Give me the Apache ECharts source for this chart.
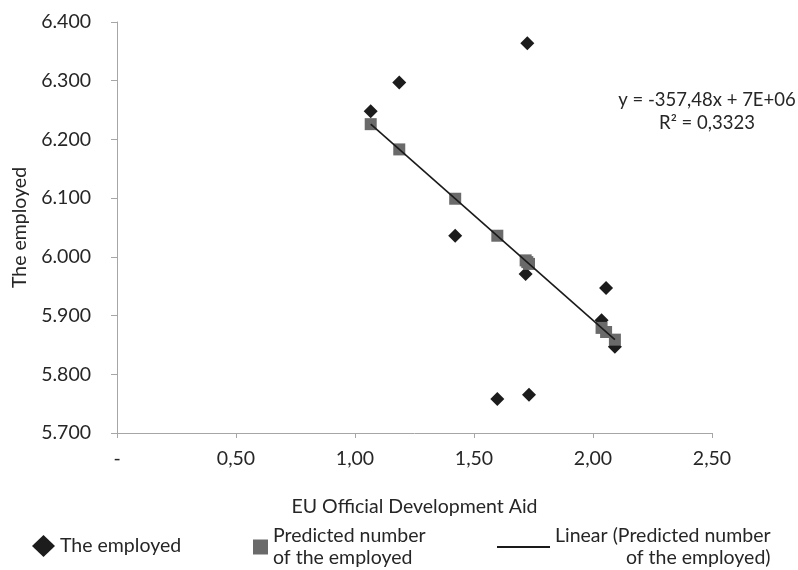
<!DOCTYPE html>
<html>
<head>
<meta charset="utf-8">
<script src="https://cdn.jsdelivr.net/npm/echarts@6/dist/echarts.min.js"></script>
<style>
html,body{margin:0;padding:0;background:#fff;}
#chart{width:798px;height:570px;}
</style>
</head>
<body>
<div id="chart"></div>
<script>
// Observed data (x: EU Official Development Aid, y: the employed, in thousands)
var employedX = [1.066, 1.186, 1.421, 1.598, 1.717, 1.724, 1.731, 2.036, 2.055, 2.092];
var employedY = [6248, 6297, 6036, 5758, 5971, 6364, 5765, 5892, 5947, 5847];
// Predicted values (read from the grey squares)
var predictedY = [6226, 6183, 6099, 6036, 5994, 5991, 5988, 5879, 5872, 5859];
// Trend line end points
var trendX = [1.066, 2.092];
var trendY = [6226, 5859];
var yTicks = [5700, 5800, 5900, 6000, 6100, 6200, 6300, 6400];
var xTicks = [0, 0.5, 1, 1.5, 2, 2.5];
var equationText = 'y = -357,48x + 7E+06\nR² = 0,3323';
var seriesNames = ['The employed', 'Predicted number of the employed', 'Linear (Predicted number of the employed)'];

var FONT = 'Lato';
var TXT = '#262626';
var FS = 19.5;

function pairs(xs, ys) { return xs.map(function (x, i) { return [x, ys[i]]; }); }

var chart = echarts.init(document.getElementById('chart'), null, {renderer: 'canvas'});
chart.setOption({
  animation: false,
  backgroundColor: '#fff',
  textStyle: {fontFamily: FONT},
  grid: {left: 117, right: 86, top: 22, bottom: 137, containLabel: false, outerBoundsMode: 'none'},
  xAxis: {
    type: 'value', min: xTicks[0], max: xTicks[xTicks.length - 1], interval: 0.5,
    name: 'EU Official Development Aid', nameLocation: 'middle', nameGap: 64,
    nameTextStyle: {fontFamily: FONT, fontSize: FS, color: TXT},
    axisLine: {show: true, lineStyle: {color: '#a6a6a6', width: 1}},
    axisTick: {show: true, inside: false, length: 5, lineStyle: {color: '#a6a6a6'}},
    splitLine: {show: false},
    axisLabel: {margin: 16, fontFamily: FONT, fontSize: FS, color: TXT,
      formatter: function (v) { return v === 0 ? '-' : v.toFixed(2).replace('.', ','); }}
  },
  yAxis: {
    type: 'value', min: yTicks[0], max: yTicks[yTicks.length - 1], interval: 100,
    name: 'The employed', nameLocation: 'middle', nameRotate: 90, nameGap: 87,
    nameTextStyle: {fontFamily: FONT, fontSize: FS, color: TXT},
    axisLine: {show: true, lineStyle: {color: '#a6a6a6', width: 1}},
    axisTick: {show: true, inside: false, length: 6, lineStyle: {color: '#a6a6a6'}},
    splitLine: {show: false},
    axisLabel: {margin: 26, fontFamily: FONT, fontSize: FS, color: TXT,
      formatter: function (v) { var s = String(Math.round(v)); return s.slice(0, s.length - 3) + '.' + s.slice(-3); }}
  },
  legend: [
    {left: 32, top: 535, padding: 0, itemWidth: 23, itemHeight: 22, selectedMode: false,
      icon: 'diamond', data: [seriesNames[0]], itemStyle: {color: '#1c1c1c', opacity: 1},
      textStyle: {fontFamily: FONT, fontSize: FS, color: TXT}},
    {left: 253, top: 525, padding: 0, itemWidth: 15, itemHeight: 15, selectedMode: false,
      icon: 'rect', data: [seriesNames[1]], itemStyle: {color: '#6a6a6a', opacity: 1},
      formatter: function () { return 'Predicted number\nof the employed'; },
      textStyle: {fontFamily: FONT, fontSize: FS, color: TXT, lineHeight: 22}},
    {left: 497, top: 525, padding: 0, itemWidth: 53, itemHeight: 2, selectedMode: false,
      icon: 'rect', data: [seriesNames[2]], itemStyle: {color: '#1a1a1a', opacity: 1},
      formatter: function () { return '{a|Linear (Predicted number}\n{b|of the employed)}'; },
      textStyle: {fontFamily: FONT, fontSize: FS, color: TXT, lineHeight: 22,
        rich: {a: {fontFamily: FONT, fontSize: FS, color: TXT, lineHeight: 22},
               b: {fontFamily: FONT, fontSize: FS, color: TXT, lineHeight: 22, align: 'right'}}}}
  ],
  graphic: [{
    type: 'text', x: 707, y: 89, silent: true,
    style: {text: equationText, align: 'center', verticalAlign: 'top',
      font: '18.5px ' + FONT, lineHeight: 23, fill: TXT}
  }],
  series: [
    {name: seriesNames[0], type: 'scatter', symbol: 'diamond', symbolSize: [14, 14],
      itemStyle: {color: '#1c1c1c', opacity: 1}, data: pairs(employedX, employedY), z: 2},
    {name: seriesNames[1], type: 'scatter', symbol: 'rect', symbolSize: [12, 12],
      itemStyle: {color: '#6a6a6a', opacity: 1}, data: pairs(employedX, predictedY), z: 3},
    {name: seriesNames[2], type: 'line', symbol: 'none', showSymbol: false,
      lineStyle: {color: '#1a1a1a', width: 1.6}, itemStyle: {color: '#1a1a1a'},
      data: pairs(trendX, trendY), z: 4}
  ]
});
</script>
</body>
</html>
